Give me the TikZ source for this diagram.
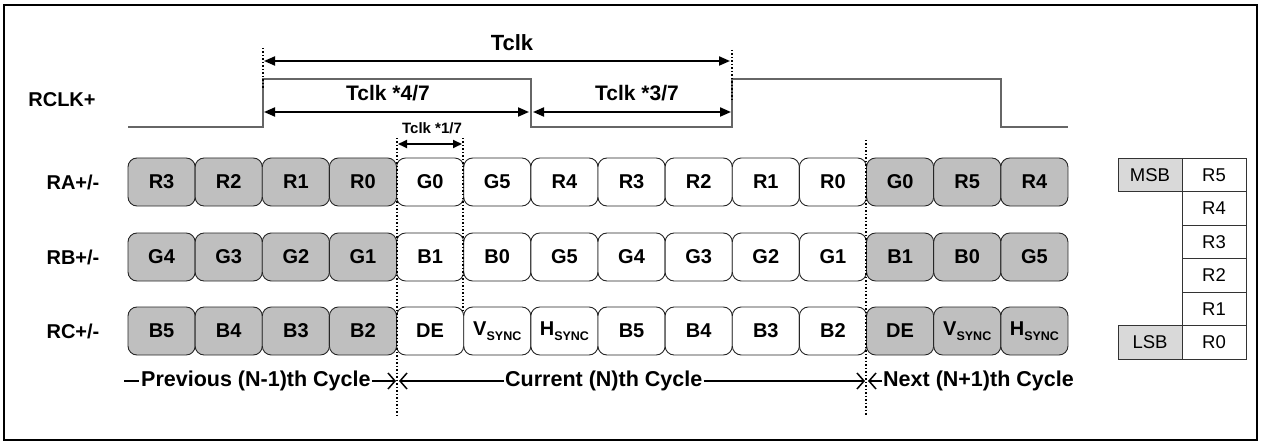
\documentclass[tikz,border=0pt]{standalone}
\usepackage{fontspec}
\setmainfont{Liberation Sans}
\usetikzlibrary{arrows.meta}
\newcommand\vsy{V\raisebox{-0.22em}{\fontsize{12.5}{12.5}\selectfont SYNC}}
\newcommand\hsy{H\raisebox{-0.22em}{\fontsize{12.5}{12.5}\selectfont SYNC}}
\begin{document}
\begin{tikzpicture}[x=1pt,y=-1pt,
  lbl/.style={font=\fontsize{20}{20}\selectfont\bfseries, inner sep=0},
  cyc/.style={font=\fontsize{21.5}{21.5}\selectfont\bfseries, inner sep=1pt},
  tlbl/.style={font=\fontsize{21}{21}\selectfont\bfseries, inner sep=0},
  cell/.style={draw=black!85, line width=0.9pt, rounded corners=9pt,
    minimum width=67.14pt, minimum height=48pt, inner sep=0,
    font=\fontsize{20}{20}\selectfont\bfseries},
  dark/.style={cell, fill=black!25},
  light/.style={cell, fill=white},
  tcell/.style={draw=black!80, line width=0.8pt, minimum width=64pt,
    minimum height=33.5pt, inner sep=0, font=\fontsize{18.5}{18.5}\selectfont},
  tgray/.style={tcell, fill=black!15},
  clk/.style={draw=black!60, line width=1.3pt},
  dots/.style={draw=black, line width=1.5pt, dotted},
  dim/.style={line width=2pt, {Triangle[length=11pt,width=9pt]}-{Triangle[length=11pt,width=9pt]}},
  dimsmall/.style={line width=1.8pt, {Triangle[length=9pt,width=8pt]}-{Triangle[length=9pt,width=8pt]}},
  barb/.style={line width=1.5pt, -{Straight Barb[length=7pt,width=16pt,line width=1.5pt]}}
  ]
\useasboundingbox (0,0) rectangle (1267,441);
\draw[line width=2.4pt] (4,5) rectangle (1257,440);

% row labels
\node[lbl] (lrclk) at (62,100) {RCLK+};
\node[lbl] (lra) at (73,182) {RA+/-};
\node[lbl] (lrb) at (73,257) {RB+/-};
\node[lbl] (lrc) at (73,331) {RC+/-};

% clock waveform
\draw[clk] (128,127) -- (263,127) -- (263,79) -- (531,79) -- (531,127)
  -- (732,127) -- (732,79) -- (1001,79) -- (1001,127) -- (1068,127);

% boxes
\foreach \t [count=\i from 0] in {R3,R2,R1,R0,G0,G5,R4,R3,R2,R1,R0,G0,R5,R4}{
  \ifnum\i<4 \def\st{dark}\else\ifnum\i>10 \def\st{dark}\else\def\st{light}\fi\fi
  \node[\st] (ra\i) at ({128+67.14*(\i+0.5)},182) {\t};
}
\foreach \t [count=\i from 0] in {G4,G3,G2,G1,B1,B0,G5,G4,G3,G2,G1,B1,B0,G5}{
  \ifnum\i<4 \def\st{dark}\else\ifnum\i>10 \def\st{dark}\else\def\st{light}\fi\fi
  \node[\st] (rb\i) at ({128+67.14*(\i+0.5)},257) {\t};
}
\foreach \t [count=\i from 0] in {B5,B4,B3,B2,DE,\vsy,\hsy,B5,B4,B3,B2,DE,\vsy,\hsy}{
  \ifnum\i<4 \def\st{dark}\else\ifnum\i>10 \def\st{dark}\else\def\st{light}\fi\fi
  \node[\st] (rc\i) at ({128+67.14*(\i+0.5)},331) {\t};
}

% dotted guide lines
\coordinate (d1t) at (263,48);  \coordinate (d1b) at (263,90);
\coordinate (d2t) at (732,50);  \coordinate (d2b) at (732,100);
\coordinate (d3t) at (397,138); \coordinate (d3b) at (397,415);
\coordinate (d4t) at (463,138); \coordinate (d4b) at (463,312);
\coordinate (d5t) at (866,140); \coordinate (d5b) at (866,415);
\draw[dots] (d1t) -- (d1b);
\draw[dots] (d2t) -- (d2b);
\draw[dots] (d3t) -- (d3b);
\draw[dots] (d4t) -- (d4b);
\draw[dots] (d5t) -- (d5b);

% timing dimensions
\coordinate (a1l) at (264,61);  \coordinate (a1r) at (730,61);
\coordinate (a2l) at (264,112); \coordinate (a2r) at (529,112);
\coordinate (a3l) at (533,112); \coordinate (a3r) at (731,112);
\coordinate (a4l) at (398,144); \coordinate (a4r) at (462,144);
\draw[dim] (a1l) -- (a1r);
\draw[dim] (a2l) -- (a2r);
\draw[dim] (a3l) -- (a3r);
\draw[dimsmall] (a4l) -- (a4r);
\node[font=\fontsize{22}{22}\selectfont\bfseries, inner sep=0] (ttclk) at (512,43) {Tclk};
\node[tlbl] (t47) at (388,93) {Tclk *4/7};
\node[tlbl] (t37) at (637,93) {Tclk *3/7};
\node[font=\fontsize{15}{15}\selectfont\bfseries, inner sep=0] (t17) at (432,128) {Tclk *1/7};

% cycle labels
\coordinate (pd1) at (124,381); \coordinate (pd2) at (139,381);
\draw[line width=1.5pt] (pd1) -- (pd2);
\node[cyc, anchor=west] (prev) at (140,381) {Previous (N-1)th Cycle};
\coordinate (pend) at (396,381);
\draw[barb] (prev.east) -- (pend);
\node[cyc, anchor=west] (cur) at (504,381) {Current (N)th Cycle};
\coordinate (cl) at (399,381); \coordinate (cr) at (865,381);
\draw[barb] (cur.west) -- (cl);
\draw[barb] (cur.east) -- (cr);
\node[cyc, anchor=west] (nxt) at (882,381) {Next (N+1)th Cycle};
\coordinate (nl) at (868,381);
\draw[barb] (nxt.west) -- (nl);

% bit table
\node[tgray] (msb) at (1150,174.75) {MSB};
\node[tcell] (r5) at (1214,174.75) {R5};
\node[tcell] (r4) at (1214,208.25) {R4};
\node[tcell] (r3) at (1214,241.75) {R3};
\node[tcell] (r2) at (1214,275.25) {R2};
\node[tcell] (r1) at (1214,308.75) {R1};
\node[tcell] (r0) at (1214,342.25) {R0};
\node[tgray] (lsb) at (1150,342.25) {LSB};
\end{tikzpicture}
\end{document}
